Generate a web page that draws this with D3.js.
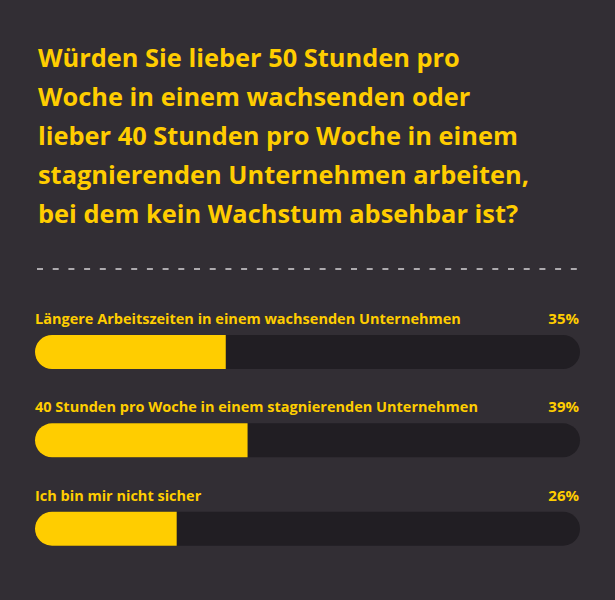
<!DOCTYPE html>
<html>
<head>
<meta charset="utf-8">
<script src="https://cdn.jsdelivr.net/npm/d3@7"></script>
<style>
  body { margin: 0; background: #322e34; }
  text { font-family: "Open Sans", sans-serif; font-weight: bold; }
</style>
</head>
<body>
<div id="chart"></div>
<script>
// data
var titleLines = [
  "Würden Sie lieber 50 Stunden pro",
  "Woche in einem wachsenden oder",
  "lieber 40 Stunden pro Woche in einem",
  "stagnierenden Unternehmen arbeiten,",
  "bei dem kein Wachstum absehbar ist?"
];
var answers = [
  "Längere Arbeitszeiten in einem wachsenden Unternehmen",
  "40 Stunden pro Woche in einem stagnierenden Unternehmen",
  "Ich bin mir nicht sicher"
];
var shares = [35, 39, 26];

var w = 615;
var h = 600;
var yellow = "#ffcd00";

var svg = d3.select("#chart")
    .append("svg")
    .attr("width", w)
    .attr("height", h);

svg.append("rect")
    .attr("width", w)
    .attr("height", h)
    .attr("fill", "#322e34");

// title
svg.selectAll("text.title")
    .data(titleLines)
    .enter()
    .append("text")
    .attr("class", "title")
    .attr("x", 38)
    .attr("y", function(d, i){ return 67 + i * 39; })
    .attr("font-size", 25.4)
    .attr("fill", yellow)
    .text(function(d){ return d; });

// dashed separator
svg.append("line")
    .attr("x1", 37)
    .attr("x2", 582)
    .attr("y1", 269)
    .attr("y2", 269)
    .attr("stroke", "#d6d3d6")
    .attr("stroke-width", 1.5)
    .attr("stroke-dasharray", "6,9.7");

var x = d3.scaleLinear().domain([0, 100]).range([35, 580]);
var y = d3.scaleBand().domain(answers).range([335, 600]).paddingInner(0);
var barH = 34;
var r = barH / 2;

var rows = svg.selectAll("g.row")
    .data(answers)
    .enter()
    .append("g")
    .attr("class", "row")
    .attr("transform", function(d){ return "translate(0," + y(d) + ")"; });

// background track
rows.append("rect")
    .attr("x", x(0))
    .attr("y", 0)
    .attr("width", x(100) - x(0))
    .attr("height", barH)
    .attr("rx", r)
    .attr("fill", "#211e23");

// yellow fill: rounded left, flat right
rows.append("path")
    .attr("fill", yellow)
    .attr("d", function(d, i){
        var x0 = x(0), x1 = x(shares[i]);
        return "M" + (x0 + r) + ",0H" + x1 + "V" + barH + "H" + (x0 + r) +
            "A" + r + "," + r + " 0 0 1 " + (x0 + r) + ",0Z";
    });

rows.append("text")
    .attr("x", 35)
    .attr("y", -11)
    .attr("font-size", 14.5)
    .attr("fill", yellow)
    .text(function(d){ return d; });

rows.append("text")
    .attr("x", 579)
    .attr("y", -11)
    .attr("text-anchor", "end")
    .attr("font-size", 15)
    .attr("fill", yellow)
    .text(function(d, i){ return shares[i] + "%"; });
</script>
</body>
</html>
